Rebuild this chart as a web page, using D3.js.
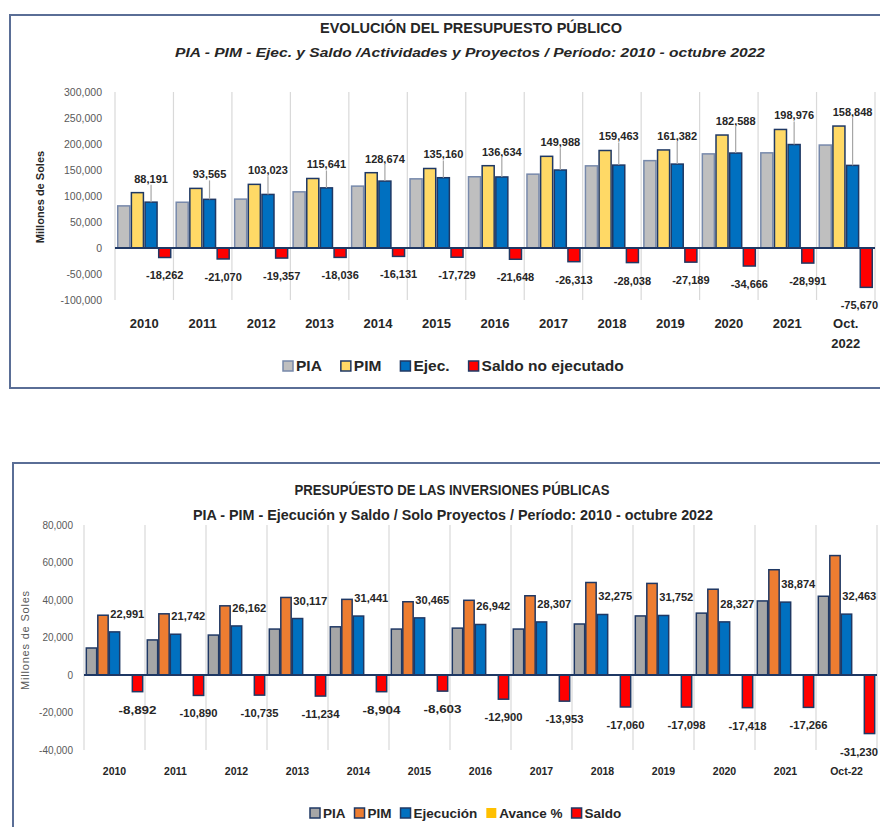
<!DOCTYPE html>
<html lang="es">
<head>
<meta charset="utf-8">
<title>Presupuesto público</title>
<script src="https://cdn.jsdelivr.net/npm/d3@7"></script>
<style>
  body { margin: 0; background: #fff; }
  svg { display: block; font-family: "Liberation Sans", Arial, sans-serif; }
</style>
</head>
<body>
<script>
// ---- Chart 1: Evolución del presupuesto público (millones de soles)
var years1 = ["2010", "2011", "2012", "2013", "2014", "2015", "2016", "2017", "2018", "2019", "2020", "2021", "Oct.|2022"];
var pia1   = [81000, 88000, 94000, 108000, 119000, 133000, 137000, 142000, 158000, 168000, 181000, 183000, 198000];
var pim1   = [106453, 114635, 122380, 133677, 144805, 152889, 158282, 176301, 187501, 188571, 217254, 227967, 234518];
var ejec1  = [88191, 93565, 103023, 115641, 128674, 135160, 136634, 149988, 159463, 161382, 182588, 198976, 158848];
var saldo1 = [-18262, -21070, -19357, -18036, -16131, -17729, -21648, -26313, -28038, -27189, -34666, -28991, -75670];
var ticks1 = [-100000, -50000, 0, 50000, 100000, 150000, 200000, 250000, 300000];

// ---- Chart 2: Presupuesto de las inversiones públicas (solo proyectos)
var years2 = ["2010", "2011", "2012", "2013", "2014", "2015", "2016", "2017", "2018", "2019", "2020", "2021", "Oct-22"];
var pia2   = [14400, 18700, 21300, 24500, 25700, 24500, 25000, 24500, 27200, 31500, 33000, 39500, 42000];
var pim2   = [31883, 32632, 36897, 41351, 40345, 39068, 39842, 42260, 49335, 48850, 45745, 56140, 63693];
var ejec2  = [22991, 21742, 26162, 30117, 31441, 30465, 26942, 28307, 32275, 31752, 28327, 38874, 32463];
var saldo2 = [-8892, -10890, -10735, -11234, -8904, -8603, -12900, -13953, -17060, -17098, -17418, -17266, -31230];
var ticks2 = [-40000, -20000, 0, 20000, 40000, 60000, 80000];

var W = 880, H = 827;
var navy = "#1f3864";
var fmt = d3.formatLocale({decimal: ".", thousands: ",", grouping: [3], currency: ["", ""], minus: "-"}).format(",");

var svg = d3.select("body").append("svg")
    .attr("width", W)
    .attr("height", H);

// frames
svg.append("rect").attr("x", 10).attr("y", 15).attr("width", 900).attr("height", 373)
    .attr("fill", "none").attr("stroke", "#5a6e96").attr("stroke-width", 2);
svg.append("rect").attr("x", 13).attr("y", 463).attr("width", 900).attr("height", 400)
    .attr("fill", "none").attr("stroke", "#5a6e96").attr("stroke-width", 2);

function title(txt, x, y, size, len, italic) {
    svg.append("text").text(txt)
        .attr("x", x).attr("y", y)
        .attr("text-anchor", "middle")
        .attr("font-size", size)
        .attr("font-weight", "bold")
        .attr("font-style", italic ? "italic" : "normal")
        .attr("fill", "#262626")
        .attr("textLength", len)
        .attr("lengthAdjust", "spacingAndGlyphs");
}

// keep a label inside the page (the reference crops the last one)
function keepInside(t) {
    var b = t.node().getBBox();
    if (b.x + b.width > W - 2) {
        t.attr("x", +t.attr("x") - (b.x + b.width - (W - 2)));
    }
}

function drawChart(c) {
    var g = svg.append("g");

    var x0 = d3.scaleBand().domain(c.cats).range(c.xr).padding(0);
    var x1 = d3.scaleBand().domain(c.keys).range([0, x0.bandwidth()])
        .paddingInner(c.pin).paddingOuter(c.pout);
    var y = d3.scaleLinear().domain(c.dom).range(c.yr);

    // vertical grid lines at category edges
    var edges = c.cats.map(function(d) { return x0(d); }).concat([c.xr[1]]);
    g.selectAll("line.grid").data(edges).enter().append("line")
        .attr("x1", function(d) { return d; }).attr("x2", function(d) { return d; })
        .attr("y1", y(c.dom[1])).attr("y2", y(c.dom[0]))
        .attr("stroke", "#d9d9d9").attr("stroke-width", 1.2);

    // y axis (labels only)
    var ax = g.append("g")
        .attr("transform", "translate(" + c.xr[0] + ",0)")
        .call(d3.axisLeft(y).tickValues(c.ticks).tickSize(0).tickPadding(c.tickPad).tickFormat(fmt));
    ax.select(".domain").remove();
    ax.selectAll("text").attr("font-size", c.tickSize).attr("fill", "#595959")
        .attr("font-family", "'Liberation Sans', Arial, sans-serif");

    // bars
    c.series.forEach(function(s) {
        g.selectAll(null).data(s.values).enter().append("rect")
            .attr("x", function(d, i) { return x0(c.cats[i]) + x1(s.key); })
            .attr("width", x1.bandwidth())
            .attr("y", function(d) { return y(Math.max(d, 0)); })
            .attr("height", function(d) { return Math.abs(y(d) - y(0)); })
            .attr("fill", s.color)
            .attr("stroke", s.stroke || navy)
            .attr("stroke-width", 1.5);
    });

    // zero line
    g.append("line").attr("x1", c.xr[0]).attr("x2", c.xr[1])
        .attr("y1", y(0)).attr("y2", y(0))
        .attr("stroke", navy).attr("stroke-width", 1.8);

    // execution labels
    var ejec = c.series[2].values, pim = c.series[1].values;
    ejec.forEach(function(v, i) {
        var bx = x0(c.cats[i]) + x1("ejec");
        if (c.labelMode === "above") {
            var cx = bx + x1.bandwidth() / 2;
            var ly = y(pim[i]) - 14;
            g.append("line").attr("x1", cx).attr("x2", cx)
                .attr("y1", y(v)).attr("y2", ly + 6)
                .attr("stroke", "#a6a6a6").attr("stroke-width", 1.2);
            g.append("text").text(fmt(v))
                .attr("x", cx).attr("y", ly + 4)
                .attr("text-anchor", "middle")
                .attr("font-size", c.labSize).attr("font-weight", "bold").attr("fill", "#262626");
        } else {
            var t = g.append("text").text(fmt(v))
                .attr("x", bx + 1).attr("y", y(v) - 18 + 4)
                .attr("font-size", c.labSize).attr("font-weight", "bold").attr("fill", "#262626")
                .attr("textLength", c.labLen).attr("lengthAdjust", "spacingAndGlyphs");
            keepInside(t);
        }
    });

    // saldo labels
    c.series[c.series.length - 1].values.forEach(function(v, i) {
        var cx = x0(c.cats[i]) + x1("saldo") + x1.bandwidth() / 2;
        var t = g.append("text").text(fmt(v))
            .attr("x", cx).attr("y", y(v) + 18 + 4)
            .attr("text-anchor", "middle")
            .attr("font-size", c.labSize).attr("font-weight", "bold").attr("fill", "#262626")
            .attr("textLength", c.labLen ? c.labLen + 4 : null).attr("lengthAdjust", "spacingAndGlyphs");
        keepInside(t);
    });

    // category labels
    c.cats.forEach(function(d) {
        var parts = d.split("|");
        var t = g.append("text")
            .attr("x", x0(d) + x0.bandwidth() / 2).attr("y", c.catY)
            .attr("text-anchor", "middle")
            .attr("font-size", c.catSize).attr("font-weight", "bold").attr("fill", "#262626");
        parts.forEach(function(p, k) {
            t.append("tspan").text(p)
                .attr("x", x0(d) + x0.bandwidth() / 2)
                .attr("dy", k === 0 ? 0 : 20);
        });
    });

    // y axis title
    g.append("text").text("Millones de Soles")
        .attr("transform", "translate(" + c.yTitle[0] + "," + c.yTitle[1] + ") rotate(-90)")
        .attr("text-anchor", "middle")
        .attr("font-size", c.yTitleSize)
        .attr("font-weight", c.yTitleBold ? "bold" : "normal")
        .attr("fill", c.yTitleBold ? "#262626" : "#595959")
        .attr("letter-spacing", c.yTitleBold ? 0 : 0.8);

    // legend
    var lx = c.legend.x;
    c.legend.items.forEach(function(it) {
        g.append("rect").attr("x", lx).attr("y", c.legend.y - 5)
            .attr("width", 10).attr("height", 10)
            .attr("fill", it.color)
            .attr("stroke", it.noStroke ? "none" : (it.stroke || navy))
            .attr("stroke-width", 1.5);
        var t = g.append("text").text(it.label)
            .attr("x", lx + 13).attr("y", c.legend.y + 5)
            .attr("font-size", c.legend.size).attr("font-weight", "bold").attr("fill", "#262626");
        lx += 13 + t.node().getComputedTextLength() + c.legend.gap;
    });
}

// ---- chart 1
title("EVOLUCIÓN DEL PRESUPUESTO PÚBLICO", 471, 33, 14, 302, false);
title("PIA - PIM - Ejec. y Saldo /Actividades y Proyectos / Período: 2010 - octubre 2022", 470, 57, 13, 590, true);

drawChart({
    cats: years1,
    keys: ["pia", "pim", "ejec", "saldo"],
    series: [
        {key: "pia", values: pia1, color: "#bfbfbf", stroke: "#7789ab"},
        {key: "pim", values: pim1, color: "#ffd966"},
        {key: "ejec", values: ejec1, color: "#0070c0"},
        {key: "saldo", values: saldo1, color: "#ff0000"}
    ],
    xr: [115, 875], yr: [300, 92], dom: [-100000, 300000], ticks: ticks1,
    pin: 0.12, pout: 0.2,
    tickPad: 13, tickSize: 10.5, labSize: 11, labelMode: "above",
    catY: 328, catSize: 13,
    yTitle: [44, 197], yTitleSize: 11, yTitleBold: true,
    legend: {x: 283, y: 366, gap: 19, size: 15.5, items: [
        {label: "PIA", color: "#bfbfbf", stroke: "#7789ab"},
        {label: "PIM", color: "#ffd966"},
        {label: "Ejec.", color: "#0070c0"},
        {label: "Saldo no ejecutado", color: "#ff0000"}
    ]}
});

// ---- chart 2
title("PRESUPÚESTO DE LAS INVERSIONES PÚBLICAS", 452, 495, 14, 315, false);
title("PIA - PIM - Ejecución y Saldo / Solo Proyectos / Período: 2010 - octubre 2022", 453, 520, 14, 520, false);

drawChart({
    cats: years2,
    keys: ["pia", "pim", "ejec", "avance", "saldo"],
    series: [
        {key: "pia", values: pia2, color: "#a6a6a6"},
        {key: "pim", values: pim2, color: "#ed7d31"},
        {key: "ejec", values: ejec2, color: "#0070c0"},
        {key: "saldo", values: saldo2, color: "#ff0000"}
    ],
    xr: [84, 877], yr: [750, 525], dom: [-40000, 80000], ticks: ticks2,
    pin: 0.1, pout: 0.2,
    tickPad: 11, tickSize: 10, labSize: 11, labelMode: "right", labLen: 34,
    catY: 775, catSize: 10.5,
    yTitle: [29, 640], yTitleSize: 11, yTitleBold: false,
    legend: {x: 310, y: 813, gap: 9, size: 13.5, items: [
        {label: "PIA", color: "#a6a6a6"},
        {label: "PIM", color: "#ed7d31"},
        {label: "Ejecución", color: "#0070c0"},
        {label: "Avance %", color: "#ffc000", noStroke: true},
        {label: "Saldo", color: "#ff0000"}
    ]}
});
</script>
</body>
</html>
